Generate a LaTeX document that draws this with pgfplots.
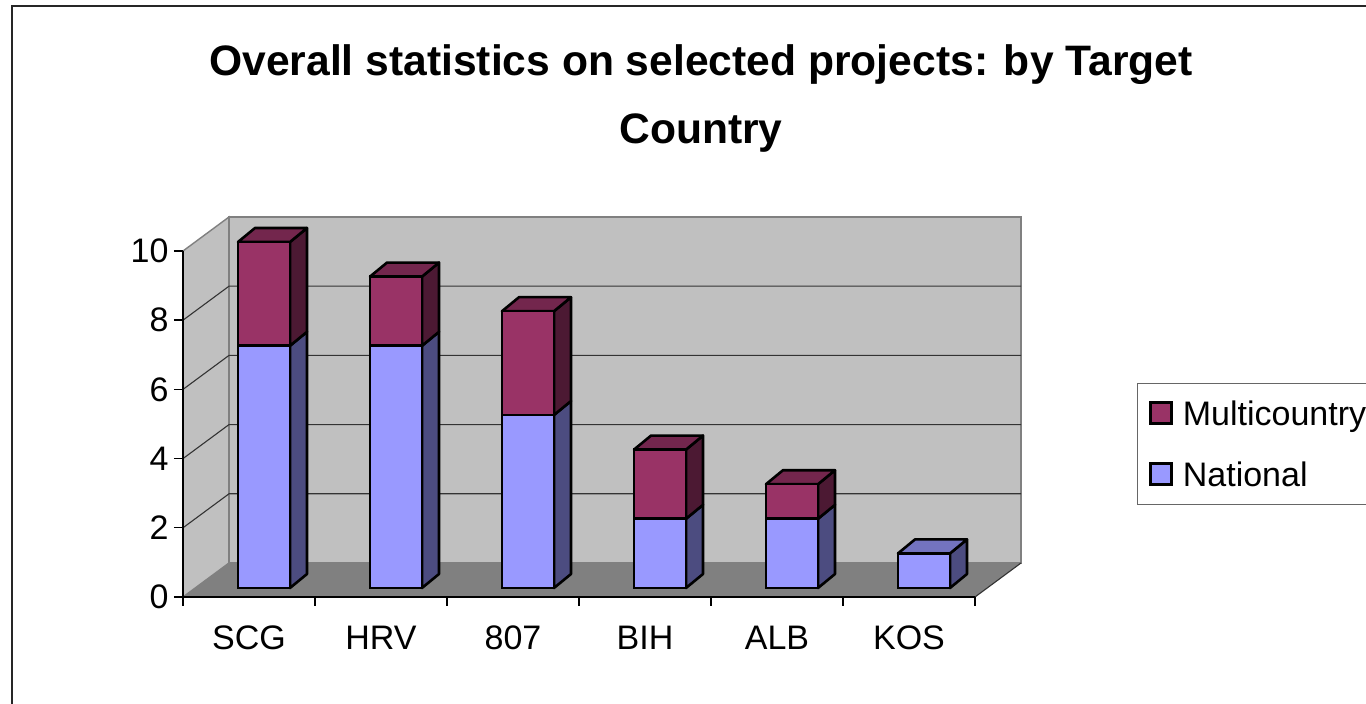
\documentclass[border=0pt]{standalone}
\usepackage{pgfplots}
\usepackage{pgfplotstable}
\pgfplotsset{compat=1.18}
\usepackage{fontspec}
\setmainfont{Liberation Sans}

\definecolor{natF}{RGB}{153,153,255}
\definecolor{natS}{RGB}{76,76,128}
\definecolor{natT}{RGB}{115,115,191}
\definecolor{mulF}{RGB}{153,51,102}
\definecolor{mulS}{RGB}{76,25,51}
\definecolor{mulT}{RGB}{115,38,77}
\definecolor{wallc}{RGB}{192,192,192}
\definecolor{floorc}{RGB}{128,128,128}

% category position (front face centre), invisible base (depth offset), National, Multicountry
\pgfplotstableread{
x      base nat mul
0.6136 0.26 7   3
1.6136 0.26 7   2
2.6136 0.26 5   3
3.6136 0.26 2   2
4.6136 0.26 2   1
5.6136 0.26 1   0
}\datatable

% side face of a bar segment: index, from value, to value, colour
\newcommand\sidef[4]{%
 \pgfmathsetmacro\myPA{#1+0.8106}%
 \pgfmathsetmacro\myPB{#1+0.9394}%
 \pgfmathsetmacro\myQA{#2+0.26}%
 \pgfmathsetmacro\myQB{#3+0.26}%
 \pgfmathsetmacro\myQC{#3+0.6646}%
 \pgfmathsetmacro\myQD{#2+0.6646}%
 \addplot[fill=#4, draw=black, line width=2.6pt, line join=round]
   coordinates {(\myPA,\myQA) (\myPB,\myQD) (\myPB,\myQC) (\myPA,\myQB)} --cycle;}
% top face of a bar: index, top value, colour
\newcommand\topf[3]{%
 \pgfmathsetmacro\myPA{#1+0.4167}%
 \pgfmathsetmacro\myPB{#1+0.5455}%
 \pgfmathsetmacro\myPC{#1+0.9394}%
 \pgfmathsetmacro\myPD{#1+0.8106}%
 \pgfmathsetmacro\myQA{#2+0.26}%
 \pgfmathsetmacro\myQB{#2+0.6646}%
 \addplot[fill=#3, draw=black, line width=2.6pt, line join=round]
   coordinates {(\myPA,\myQA) (\myPB,\myQB) (\myPC,\myQB) (\myPD,\myQA)} --cycle;}

\newcommand\lblfont{\fontsize{34}{40}\selectfont}

\begin{document}
\begin{tikzpicture}
\useasboundingbox (0,0) rectangle (1366pt,704pt);
\fill[white] (0,0) rectangle (1366pt,704pt);
\draw[line width=2pt, black!85] (12pt,-10pt) -- (12pt,698pt) -- (1400pt,698pt);

% background: walls, floor, grid, bar sides and tops, axes
\begin{axis}[
  at={(183pt,107pt)}, anchor=south west,
  x=132pt, y=34.6pt,
  xmin=0, xmax=6, ymin=0, ymax=10,
  enlargelimits=false, clip=false,
  axis lines=left,
  axis line style={-, line width=1.8pt, black},
  axis on top,
  tick align=outside,
  major tick length=9pt,
  tick style={black, line width=1.4pt},
  ytick={0,2,...,10},
  xtick={0,1,...,6},
  xticklabels={},
  extra x ticks={0.5,1.5,2.5,3.5,4.5,5.5},
  extra x tick labels={SCG,HRV,807,BIH,ALB,KOS},
  extra x tick style={major tick length=0pt,
     xticklabel style={font=\lblfont, text height=24.5pt, text depth=0pt, yshift=-24pt}},
  yticklabel style={font=\lblfont, xshift=-2pt},
  /pgf/number format/assume math mode=true,
  title={Overall statistics on selected projects: by Target\\Country},
  title style={at={(0.654,1.422)}, anchor=center, align=center,
     font=\bfseries\fontsize{42.6}{68}\selectfont},
]
% left wall
\addplot[fill=wallc, draw=floorc, line width=1.4pt]
  coordinates {(0,0) (0,10) (0.3485,10.9827) (0.3485,0.9827)} --cycle;
% back wall
\addplot[fill=wallc, draw=floorc, line width=1.4pt]
  coordinates {(0.3485,0.9827) (0.3485,10.9827) (6.3485,10.9827) (6.3485,0.9827)} --cycle;
% floor
\addplot[fill=floorc, draw=none]
  coordinates {(0,0) (6,0) (6.3485,0.9827) (0.3485,0.9827)} --cycle;
\addplot[black!80, line width=1.1pt] coordinates {(6,0) (6.3485,0.9827)};
% grid lines
\addplot[black!80, line width=1.1pt] coordinates {(0,2) (0.3485,2.9827) (6.3485,2.9827)};
\addplot[black!80, line width=1.1pt] coordinates {(0,4) (0.3485,4.9827) (6.3485,4.9827)};
\addplot[black!80, line width=1.1pt] coordinates {(0,6) (0.3485,6.9827) (6.3485,6.9827)};
\addplot[black!80, line width=1.1pt] coordinates {(0,8) (0.3485,8.9827) (6.3485,8.9827)};
% bar sides
\sidef{0}{0}{7}{natS}  \sidef{0}{7}{10}{mulS} \topf{0}{10}{mulT}
\sidef{1}{0}{7}{natS}  \sidef{1}{7}{9}{mulS}  \topf{1}{9}{mulT}
\sidef{2}{0}{5}{natS}  \sidef{2}{5}{8}{mulS}  \topf{2}{8}{mulT}
\sidef{3}{0}{2}{natS}  \sidef{3}{2}{4}{mulS}  \topf{3}{4}{mulT}
\sidef{4}{0}{2}{natS}  \sidef{4}{2}{3}{mulS}  \topf{4}{3}{mulT}
\sidef{5}{0}{1}{natS}  \topf{5}{1}{natT}
\end{axis}

% front faces of the stacked bars + legend
\begin{axis}[
  at={(183pt,107pt)}, anchor=south west,
  x=132pt, y=34.6pt,
  xmin=0, xmax=6, ymin=0, ymax=10,
  enlargelimits=false, clip=false,
  hide axis,
  ybar stacked, bar width=0.3939,
  legend reversed,
  legend style={at={(1.2045,0.6185)}, anchor=north west,
     draw=black!60, line width=1pt, fill=white,
     font=\lblfont, row sep=31pt, column sep=8pt,
     inner xsep=12pt, inner ysep=15pt,
     cells={anchor=west}},
  legend image code/.code={\draw[#1, line width=2.4pt, draw=black] (0pt,-10pt) rectangle (21pt,11pt);},
]
\addplot[fill=none, draw=none, forget plot] table[x=x, y=base]{\datatable};
\addplot[fill=natF, draw=black, line width=2.6pt] table[x=x, y=nat]{\datatable};
\addlegendentry{National}
\addplot[fill=mulF, draw=black, line width=2.6pt] table[x=x, y=mul]{\datatable};
\addlegendentry{Multicountry}
\end{axis}
\end{tikzpicture}
\end{document}
